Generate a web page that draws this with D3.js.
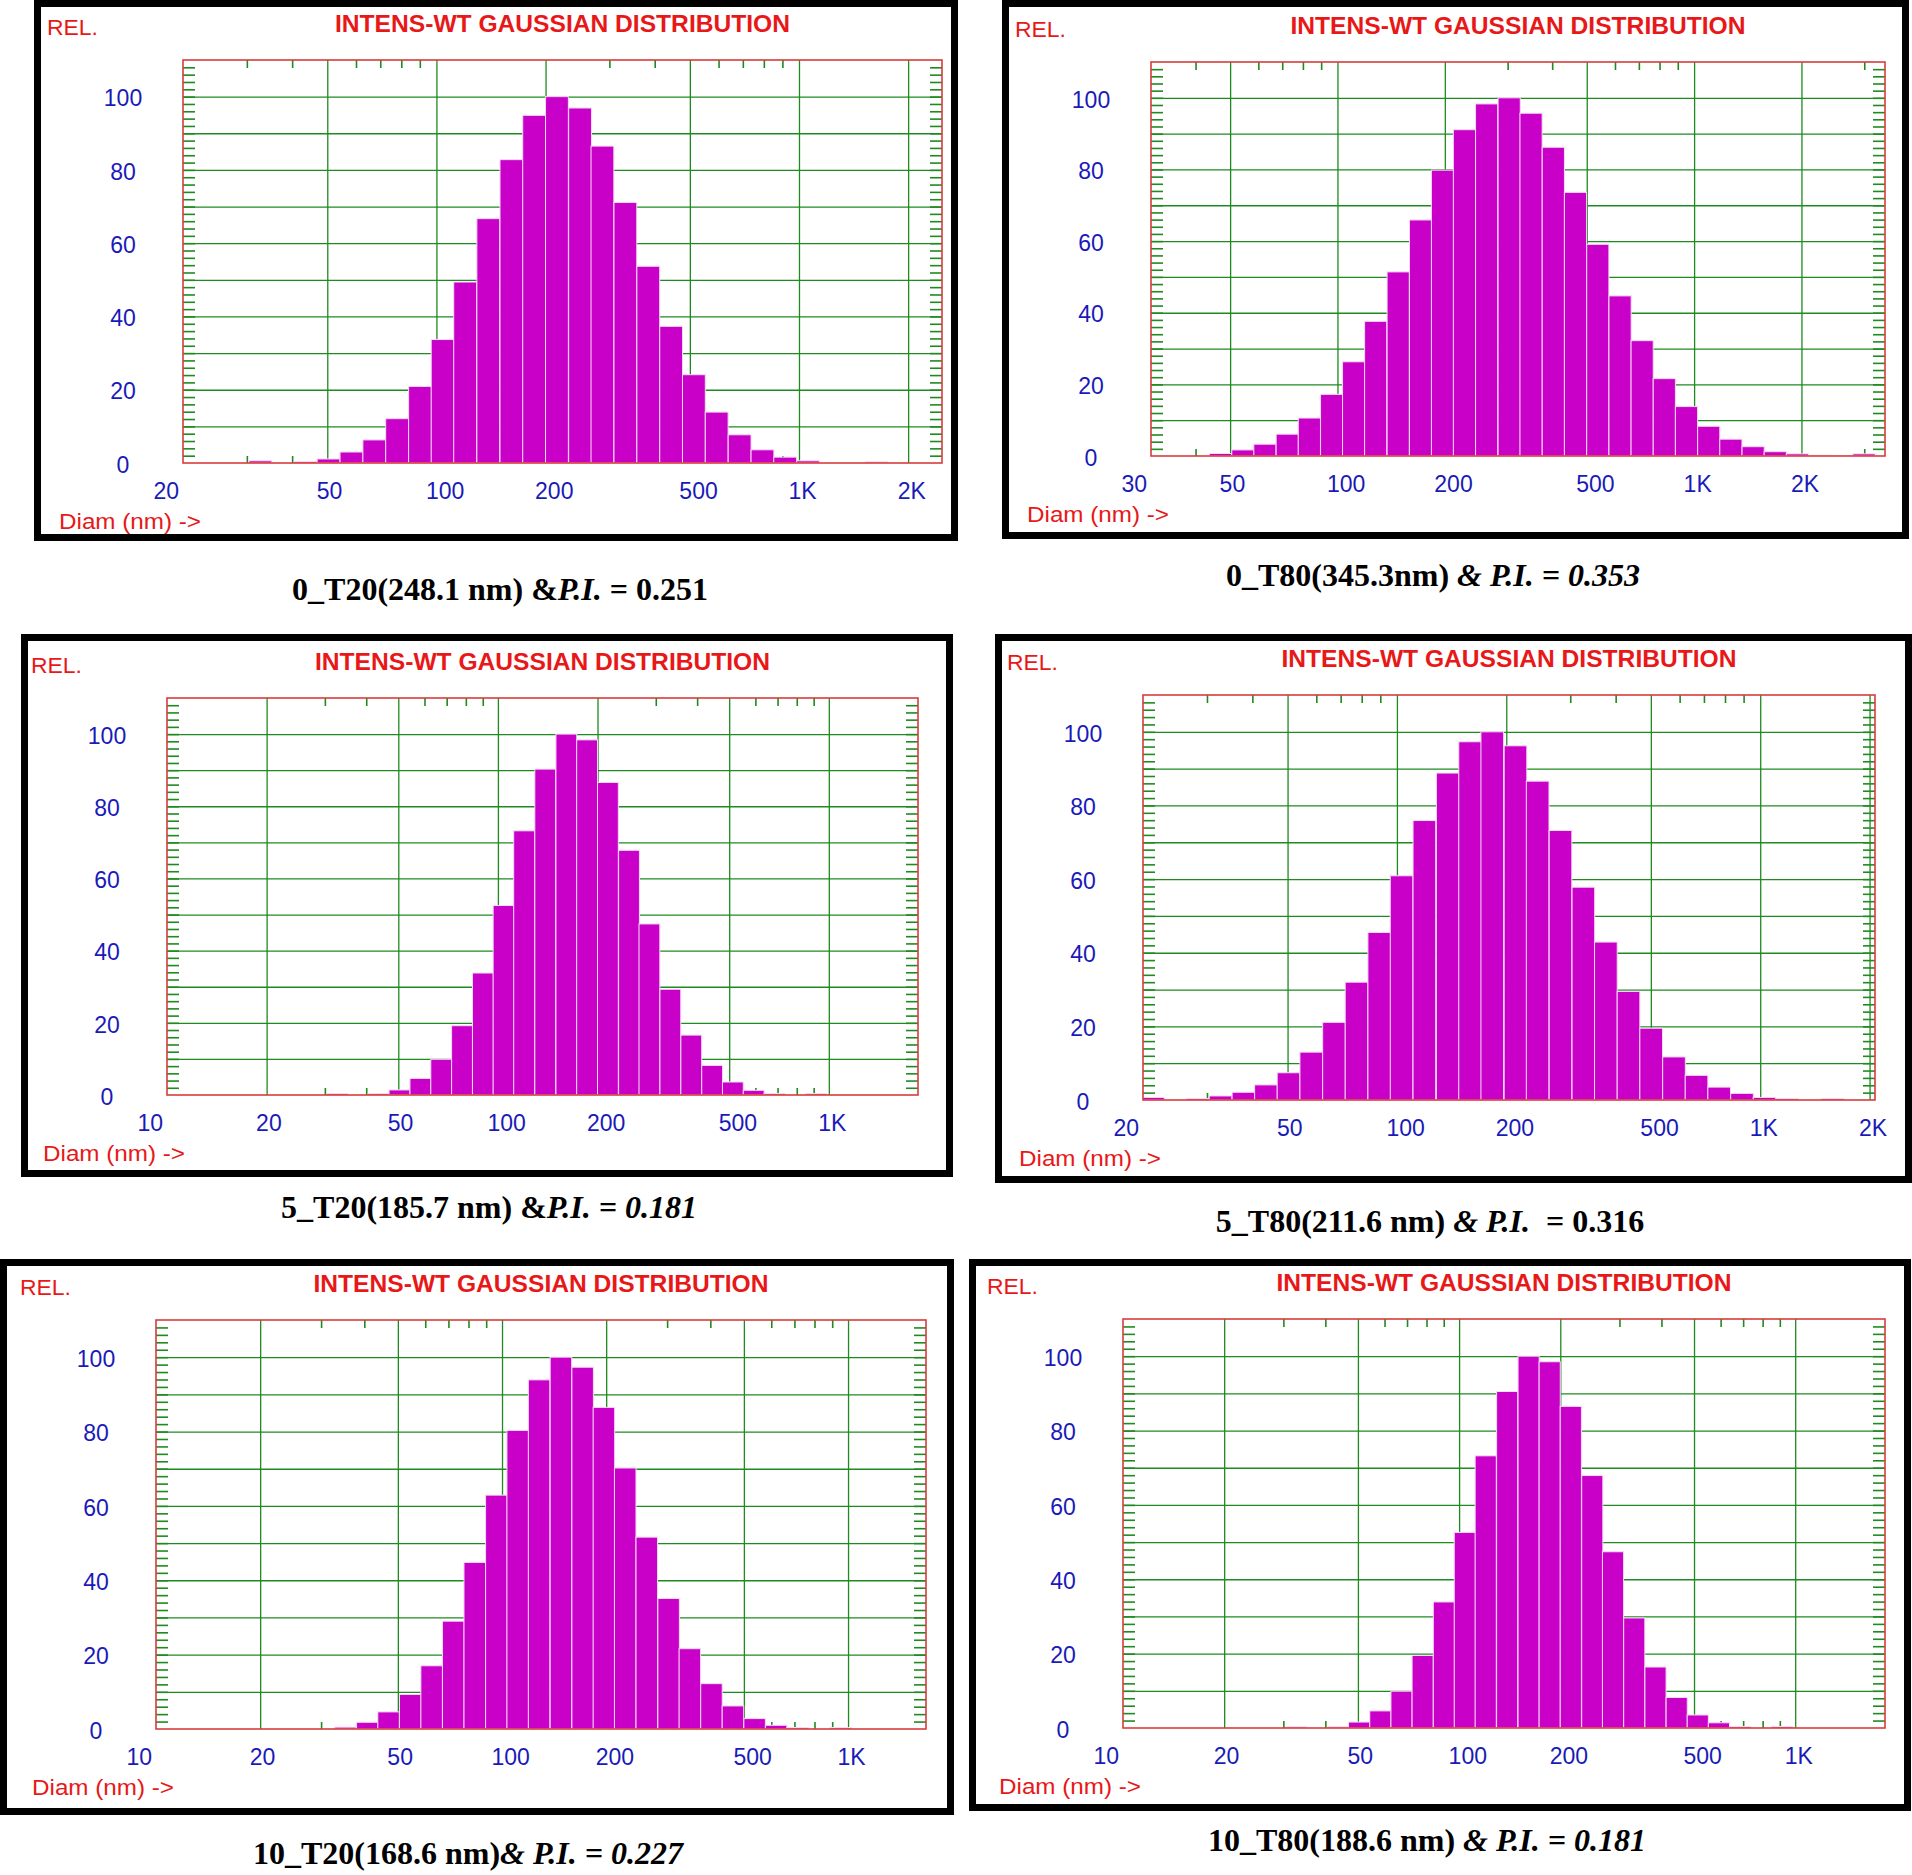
<!DOCTYPE html>
<html>
<head>
<meta charset="utf-8">
<script src="https://cdn.jsdelivr.net/npm/d3@7"></script>
<style>
  body { margin: 0; background: #fff; }
  svg { display: block; }
</style>
</head>
<body>
<svg id="fig" width="1912" height="1875"></svg>
<script>
// ---- data (bin centre diameter in nm, relative intensity) ----
var diam0T20 = [32.7, 37.8, 43.6, 50.4, 58.3, 67.4, 77.9, 90.1, 104, 120, 139, 161, 186, 215, 249, 287, 332, 384, 444, 513, 593, 686, 793, 916, 1059, 1224, 1415, 1636];
var rel0T20  = [0.6, 0, 0.4, 1.1, 3.0, 6.3, 12.1, 20.9, 33.7, 49.4, 66.7, 82.8, 94.9, 100, 96.9, 86.5, 71.1, 53.7, 37.3, 24.1, 13.9, 7.7, 3.6, 1.6, 0.6, 0, 0, 0.3];

var diam0T80 = [47.0, 54.3, 62.6, 72.3, 83.4, 96.3, 111, 128, 148, 171, 197, 227, 262, 303, 349, 403, 465, 537, 620, 715, 825, 952, 1099, 1268, 1464, 1689, 1949, 2249, 2596, 2995];
var rel0T80  = [0.7, 1.7, 3.3, 6.1, 10.6, 17.2, 26.3, 37.6, 51.4, 65.9, 79.8, 91.1, 98.3, 100, 95.7, 86.2, 73.6, 59.1, 44.7, 32.2, 21.6, 13.8, 8.3, 4.7, 2.6, 1.2, 0.6, 0.2, 0.1, 0.6];

var diam5T20 = [32.7, 37.8, 43.6, 50.4, 58.3, 67.4, 77.9, 90.1, 104, 120, 139, 161, 186, 215, 249, 287, 332, 384, 444, 513, 593, 686, 793, 916];
var rel5T20  = [0.4, 0, 0.4, 1.4, 4.6, 9.9, 19.2, 33.8, 52.5, 73.2, 90.3, 100, 98.4, 86.6, 67.8, 47.4, 29.3, 16.6, 8.2, 3.6, 1.3, 0.4, 0, 0.4];

var diam5T80 = [21.3, 24.5, 28.3, 32.7, 37.8, 43.6, 50.3, 58.1, 67.1, 77.4, 89.4, 103, 119, 138, 159, 183, 212, 244, 282, 326, 376, 434, 501, 579, 668, 771, 891, 1028, 1187, 1370, 1582];
var rel5T80  = [0.7, 0, 0.4, 1.1, 2.1, 4.1, 7.4, 13.0, 21.1, 32.0, 45.5, 60.9, 75.9, 88.8, 97.3, 100, 96.2, 86.6, 73.2, 57.8, 42.9, 29.5, 19.5, 11.7, 6.7, 3.5, 1.8, 0.7, 0.4, 0, 0.4];

var diam10T20 = [35.3, 40.8, 47.0, 54.3, 62.6, 72.3, 83.4, 96.3, 111, 128, 148, 171, 197, 227, 262, 303, 349, 403, 465, 537, 620, 715, 825, 952];
var rel10T20  = [0.5, 1.8, 4.6, 9.3, 17.0, 29.0, 44.8, 62.9, 80.3, 93.9, 100, 97.3, 86.5, 70.2, 51.6, 35.1, 21.6, 12.2, 6.2, 2.8, 1.0, 0.4, 0, 0.4];

var diam10T80 = [32.7, 37.8, 43.6, 50.4, 58.3, 67.4, 77.9, 90.1, 104, 120, 139, 161, 186, 215, 249, 287, 332, 384, 444, 513, 593, 686, 793, 916];
var rel10T80  = [0.3, 0, 0.3, 1.6, 4.6, 9.9, 19.5, 33.9, 52.6, 73.2, 90.5, 100, 98.5, 86.5, 67.9, 47.4, 29.6, 16.4, 8.2, 3.5, 1.4, 0.4, 0, 0.4];

// tick labels on the diameter axis
var xTicks20 = [20, 50, 100, 200, 500, 1000, 2000];
var xTicks30 = [30, 50, 100, 200, 500, 1000, 2000];
var xTicks10 = [10, 20, 50, 100, 200, 500, 1000];
var yTickLabels = [0, 20, 40, 60, 80, 100];
var gridDiam = [10, 20, 50, 100, 200, 500, 1000, 2000];

var titleText = "INTENS-WT GAUSSIAN DISTRIBUTION";

// captions: [text, italic]
var cap0T20  = [["0_T20(248.1 nm) &", false], ["P.I.", true], [" = 0.251", false]];
var cap0T80  = [["0_T80(345.3nm) ", false], ["& P.I. = 0.353", true]];
var cap5T20  = [["5_T20(185.7 nm) &", false], ["P.I. = 0.181", true]];
var cap5T80  = [["5_T80(211.6 nm) ", false], ["& P.I.", true], ["  = 0.316", false]];
var cap10T20 = [["10_T20(168.6 nm)", false], ["& P.I. = 0.227", true]];
var cap10T80 = [["10_T80(188.6 nm) ", false], ["& P.I. = 0.181", true]];

// layout of each panel: frame box, plot box, caption anchor
var panels = [
  {diam: diam0T20,  rel: rel0T20,  ticks: xTicks20, domain: [20, 2480], frame: [34, 0, 958, 541],      plot: [183, 60, 942, 463],     cap: [500, 600],   caption: cap0T20},
  {diam: diam0T80,  rel: rel0T80,  ticks: xTicks30, domain: [30, 3430], frame: [1002, 0, 1909, 539],   plot: [1151, 62, 1885, 456],   cap: [1433, 586],  caption: cap0T80},
  {diam: diam5T20,  rel: rel5T20,  ticks: xTicks10, domain: [10, 1860], frame: [21, 634, 953, 1177],   plot: [167, 698, 918, 1095],   cap: [489, 1218],  caption: cap5T20},
  {diam: diam5T80,  rel: rel5T80,  ticks: xTicks20, domain: [20, 2070], frame: [995, 634, 1912, 1183], plot: [1143, 695, 1875, 1100], cap: [1430, 1232], caption: cap5T80},
  {diam: diam10T20, rel: rel10T20, ticks: xTicks10, domain: [10, 1680], frame: [0, 1259, 954, 1815],   plot: [156, 1320, 926, 1729],  cap: [468, 1864],  caption: cap10T20},
  {diam: diam10T80, rel: rel10T80, ticks: xTicks10, domain: [10, 1850], frame: [969, 1259, 1911, 1811],plot: [1123, 1319, 1885, 1728],cap: [1427, 1851], caption: cap10T80}
];

var sans = "Arial, 'Liberation Sans', sans-serif";
var red = "#e81818", blue = "#1a1ab8", green = "#1f8a1f", magenta = "#c800c8";

var svg = d3.select("#fig");
svg.append("rect").attr("width", 1912).attr("height", 1875).attr("fill", "#fff");

function fmtDiam(v) {
  return v >= 1000 ? (v / 1000) + "K" : String(v);
}

function styleAxis(sel, color, width) {
  sel.select(".domain").remove();
  sel.selectAll("line").attr("stroke", color).attr("stroke-width", width);
}

panels.forEach(function (p, idx) {
  var g = svg.append("g");
  var L = p.plot[0], T = p.plot[1], R = p.plot[2], B = p.plot[3];
  var w = R - L, h = B - T;

  var x = d3.scaleLog().domain(p.domain).range([L, R]);
  var y = d3.scaleLinear().domain([0, 110]).range([B, T]);

  // black frame
  var sw = 7;
  g.append("rect")
    .attr("x", p.frame[0] + sw / 2).attr("y", p.frame[1] + sw / 2)
    .attr("width", p.frame[2] - p.frame[0] - sw).attr("height", p.frame[3] - p.frame[1] - sw)
    .attr("fill", "#fff").attr("stroke", "#000").attr("stroke-width", sw);

  // horizontal grid every 10
  g.append("g").attr("transform", "translate(" + L + ",0)")
    .call(d3.axisLeft(y).tickValues(d3.range(10, 110, 10)).tickSize(-w).tickFormat(""))
    .call(styleAxis, green, 1.3);

  // vertical grid at the labelled diameters
  var gv = gridDiam.filter(function (v) { return v > p.domain[0] && v < p.domain[1]; });
  g.append("g").attr("transform", "translate(0," + B + ")")
    .call(d3.axisBottom(x).tickValues(gv).tickSize(-h).tickFormat(""))
    .call(styleAxis, green, 1.3);

  // minor log ticks, top and bottom
  var minor = [];
  [10, 100, 1000].forEach(function (dec) {
    d3.range(1, 10).forEach(function (m) {
      var v = m * dec;
      if (v > p.domain[0] && v < p.domain[1] && gridDiam.indexOf(v) < 0) minor.push(v);
    });
  });
  g.append("g").attr("transform", "translate(0," + T + ")")
    .call(d3.axisTop(x).tickValues(minor).tickSize(-8).tickFormat(""))
    .call(styleAxis, green, 1.6);
  g.append("g").attr("transform", "translate(0," + B + ")")
    .call(d3.axisBottom(x).tickValues(minor).tickSize(-7).tickFormat(""))
    .call(styleAxis, green, 1.6);

  // left / right comb of ticks every 2 units
  var comb = d3.range(2, 110, 2);
  g.append("g").attr("transform", "translate(" + L + ",0)")
    .call(d3.axisLeft(y).tickValues(comb).tickSize(-12).tickFormat(""))
    .call(styleAxis, green, 1.6);
  g.append("g").attr("transform", "translate(" + R + ",0)")
    .call(d3.axisRight(y).tickValues(comb).tickSize(-12).tickFormat(""))
    .call(styleAxis, green, 1.6);

  // bars
  var clipId = "clip" + idx;
  g.append("clipPath").attr("id", clipId)
    .append("rect").attr("x", L).attr("y", T).attr("width", w).attr("height", h);
  var n = p.diam.length;
  var step = Math.pow(p.diam[n - 1] / p.diam[0], 1 / (n - 1));
  var half = Math.sqrt(step);
  var rows = p.diam.map(function (d, i) { return {d: d, v: p.rel[i]}; })
    .filter(function (r) { return r.v > 0; });
  g.append("g").attr("clip-path", "url(#" + clipId + ")")
    .selectAll("rect").data(rows).enter().append("rect")
    .attr("x", function (r) { return x(r.d / half); })
    .attr("width", function (r) { return x(r.d * half) - x(r.d / half); })
    .attr("y", function (r) { return y(r.v); })
    .attr("height", function (r) { return B - y(r.v); })
    .attr("fill", magenta)
    .attr("stroke", "#f6dcf6").attr("stroke-width", 1);

  // red plot border
  g.append("rect").attr("x", L).attr("y", T).attr("width", w).attr("height", h)
    .attr("fill", "none").attr("stroke", "#d83c3c").attr("stroke-width", 1.6);

  // y labels
  var ya = g.append("g").attr("transform", "translate(" + L + ",0)")
    .call(d3.axisLeft(y).tickValues(yTickLabels).tickSize(0).tickFormat(d3.format("d")));
  ya.select(".domain").remove();
  ya.selectAll("text")
    .attr("x", -60).attr("dy", "0.4em")
    .attr("text-anchor", "middle")
    .attr("fill", blue).style("font-family", sans).style("font-size", "23px");

  // x labels
  var xa = g.append("g").attr("transform", "translate(0," + B + ")")
    .call(d3.axisBottom(x).tickValues(p.ticks).tickSize(0).tickFormat(fmtDiam));
  xa.select(".domain").remove();
  xa.selectAll("text")
    .attr("y", 28).attr("dy", "0.36em")
    .attr("dx", function (d, i) { return i === 0 ? -30 : -11; })
    .attr("text-anchor", "start")
    .attr("fill", blue).style("font-family", sans).style("font-size", "23px");

  // REL., title, axis name
  g.append("text").attr("x", L - 136).attr("y", T - 25)
    .attr("fill", red).style("font-family", sans).style("font-size", "22px")
    .attr("textLength", 51).attr("lengthAdjust", "spacingAndGlyphs")
    .text("REL.");
  g.append("text").attr("x", (L + R) / 2).attr("y", T - 28)
    .attr("text-anchor", "middle")
    .attr("fill", red).style("font-family", sans).style("font-size", "23px").style("font-weight", "bold")
    .attr("textLength", 455).attr("lengthAdjust", "spacingAndGlyphs")
    .text(titleText);
  g.append("text").attr("x", L - 124).attr("y", B + 66)
    .attr("fill", red).style("font-family", sans).style("font-size", "22px")
    .attr("textLength", 142).attr("lengthAdjust", "spacingAndGlyphs")
    .text("Diam (nm) ->");

  // caption under the frame
  var c = svg.append("text").attr("x", p.cap[0]).attr("y", p.cap[1])
    .attr("text-anchor", "middle")
    .style("font-family", "'Times New Roman', 'Liberation Serif', serif")
    .style("font-size", "32px").style("font-weight", "bold")
    .style("white-space", "pre").attr("fill", "#000");
  p.caption.forEach(function (s) {
    c.append("tspan").style("font-style", s[1] ? "italic" : "normal").text(s[0]);
  });
});
</script>
</body>
</html>
